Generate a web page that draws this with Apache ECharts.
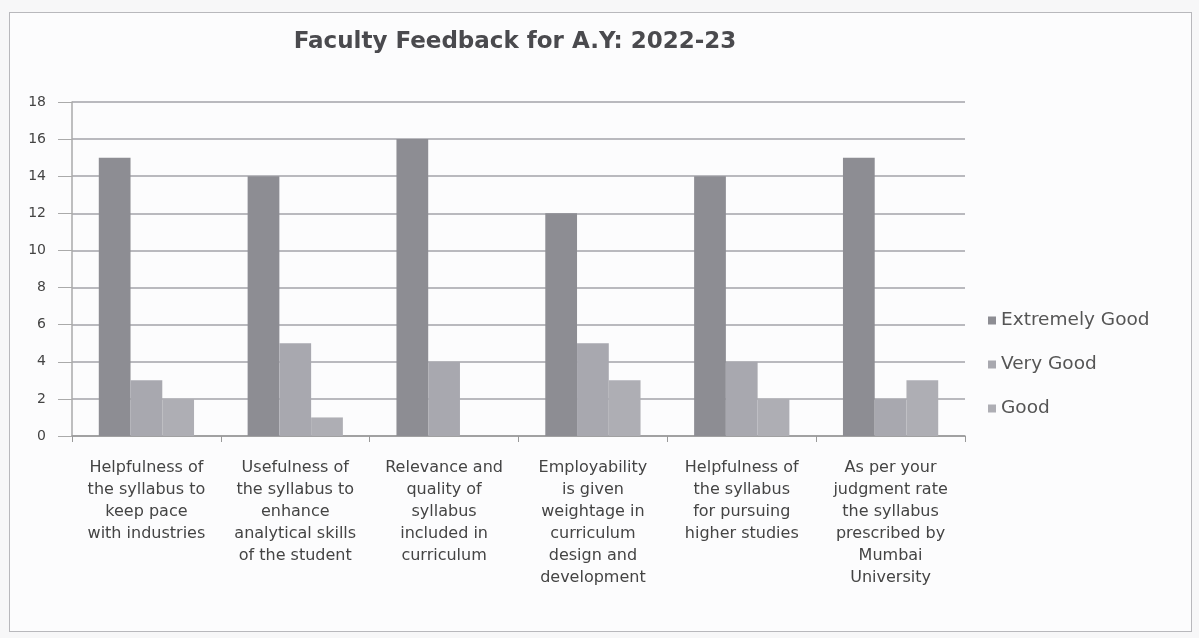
<!DOCTYPE html>
<html>
<head>
<meta charset="utf-8">
<script src="https://cdn.jsdelivr.net/npm/echarts@6/dist/echarts.min.js"></script>
<style>
  html, body { margin: 0; padding: 0; background: #f7f7f8; }
  #frame { position: absolute; left: 9px; top: 12px; width: 1181px; height: 618px; border: 1px solid #b8b8bc; background: #fcfcfd; }
  #main { position: absolute; left: 0; top: 0; width: 1199px; height: 638px; }
</style>
</head>
<body>
<div id="frame"></div>
<div id="main"></div>
<script>
var categories = [
  'Helpfulness of\nthe syllabus to\nkeep pace\nwith industries',
  'Usefulness of\nthe syllabus to\nenhance\nanalytical skills\nof the student',
  'Relevance and\nquality of\nsyllabus\nincluded in\ncurriculum',
  'Employability\nis given\nweightage in\ncurriculum\ndesign and\ndevelopment',
  'Helpfulness of\nthe syllabus\nfor pursuing\nhigher studies',
  'As per your\njudgment rate\nthe syllabus\nprescribed by\nMumbai\nUniversity'
];
var extremelyGood = [15, 14, 16, 12, 14, 15];
var veryGood = [3, 5, 4, 5, 4, 2];
var good = [2, 1, 0, 3, 2, 3];

var myChart = echarts.init(document.getElementById('main'));
var option = {
  backgroundColor: 'transparent',
  textStyle: { fontFamily: 'DejaVu Sans', color: '#444' },
  title: {
    text: 'Faculty Feedback for A.Y: 2022-23',
    left: 510, top: 26, textAlign: 'center',
    textStyle: { fontFamily: 'DejaVu Sans', fontSize: 23, fontWeight: 'bold', color: '#4a4a4e' }
  },
  legend: {
    orient: 'vertical', left: 983, top: 306,
    itemWidth: 8, itemHeight: 8, itemGap: 25,
    icon: 'rect',
    textStyle: { fontFamily: 'DejaVu Sans', fontSize: 18.5, color: '#555' },
    data: ['Extremely Good', 'Very Good', 'Good']
  },
  grid: { left: 72, right: 234, top: 102, bottom: 202 },
  xAxis: {
    type: 'category',
    data: categories,
    axisLine: { lineStyle: { color: '#999', width: 1.5 } },
    axisTick: { show: true, length: 6, lineStyle: { color: '#999' } },
    axisLabel: { interval: 0, margin: 21, lineHeight: 22, fontSize: 16, color: '#444', fontFamily: 'DejaVu Sans' }
  },
  yAxis: {
    type: 'value', min: 0, max: 18, interval: 2,
    axisLine: { show: true, lineStyle: { color: '#aaa', width: 1.5 } },
    axisTick: { show: true, length: 14, lineStyle: { color: '#aaa' } },
    axisLabel: { margin: 26, fontSize: 14, color: '#444', fontFamily: 'DejaVu Sans' },
    splitLine: { lineStyle: { color: '#a3a3a8', width: 1.5 } }
  },
  series: [
    { name: 'Extremely Good', type: 'bar', data: extremelyGood, barGap: 0, barCategoryGap: '36%', itemStyle: { color: '#8d8d93' } },
    { name: 'Very Good', type: 'bar', data: veryGood, itemStyle: { color: '#a8a8af' } },
    { name: 'Good', type: 'bar', data: good, itemStyle: { color: '#aeaeb4' } }
  ]
};
myChart.setOption(option);
</script>
</body>
</html>
